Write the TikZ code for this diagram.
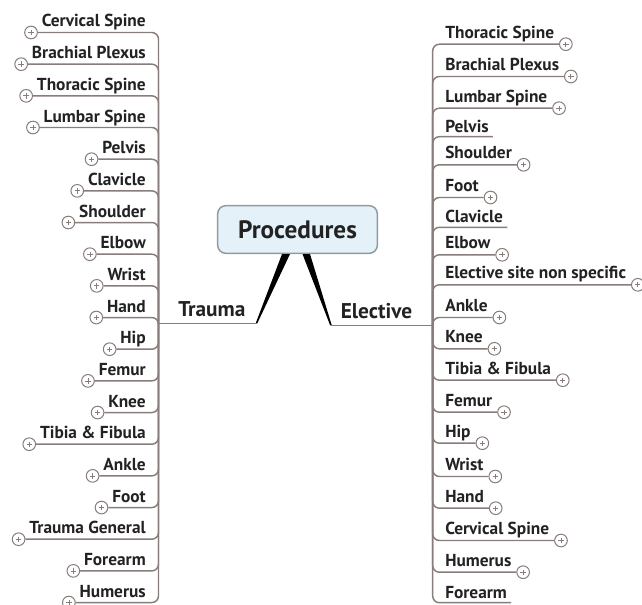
\documentclass[tikz,border=0pt]{standalone}
\usepackage{fontspec}
\setmainfont{PT Sans}
\usetikzlibrary{calc}
\definecolor{linegrey}{HTML}{877D7B}
\definecolor{txt}{HTML}{222222}
\definecolor{boxfill}{HTML}{E4F1F9}
\definecolor{boxline}{HTML}{8E9BA3}

\begin{document}
\begin{tikzpicture}[x=0.75pt,y=-0.75pt,
  item/.style={font=\bfseries\fontsize{13pt}{15pt}\selectfont, text=txt, inner sep=0pt},
  branch/.style={font=\bfseries\fontsize{16pt}{18pt}\selectfont, text=txt, inner sep=0pt},
  conn/.style={draw=linegrey, line width=1.1pt, rounded corners=5pt},
  plusmark/.style={circle, draw=linegrey, line width=0.75pt, minimum size=9.5pt,
    inner sep=0pt, fill=white,
    path picture={\draw[linegrey, line width=0.55pt]
      (path picture bounding box.center) +(-2pt,0) -- +(2pt,0)
      +(0,-2pt) -- +(0,2pt);}},
]
\useasboundingbox (0,0) rectangle (642,605);

% central topic
\node[draw=boxline, fill=boxfill, line width=1.1pt, rounded corners=6pt,
      minimum width=119.7pt, minimum height=35.7pt, inner sep=0pt,
      font=\bfseries\fontsize{18.9pt}{21pt}\selectfont, text=txt] (proc) at (297.5,229.5) {Procedures};

% main branches
\coordinate (tj) at (256.5,323.3);
\coordinate (lj) at (158.5,323.3);
\coordinate (ej) at (331,325.5);
\coordinate (rj) at (432.7,325.5);

\fill[black] ($(tj)+(-0.8,0)$) -- ($(tj)+(0.8,0)$) -- ($(proc.south)+(-7.5,0)$) -- ($(proc.south)+(-15.5,0)$) -- cycle;
\fill[black] ($(ej)+(-0.8,0)$) -- ($(ej)+(0.8,0)$) -- ($(proc.south)+(12.5,0)$) -- ($(proc.south)+(5,0)$) -- cycle;

\node[branch, anchor=base west] (trauma) at (178,316.7) {Trauma};
\node[branch, anchor=base west] (elective) at (340.5,318.5) {Elective};
\draw[conn] (lj) -- (tj);
\draw[conn] (ej) -- (rj);

% trauma sub-topics
\foreach \t [count=\i from 0] in {Cervical Spine, Brachial Plexus, Thoracic Spine,
    Lumbar Spine, Pelvis, Clavicle, Shoulder, Elbow, Wrist, Hand, Hip, Femur, Knee,
    Tibia \& Fibula, Ankle, Foot, Trauma General, Forearm, Humerus} {
  \pgfmathsetmacro\uy{31.5+31.67*\i}
  \node[item, anchor=base east] (L\i) at (146,\uy-4.5) {\t};
  \node[plusmark] (Lp\i) at ($(L\i.base west)+(-10.5,5.5)$) {};
  \draw[conn] (lj) |- (Lp\i.east);
}

% elective sub-topics
\foreach \y/\t/\p [count=\i] in {42.7/Thoracic Spine/1, 75/Brachial Plexus/1,
    106.7/Lumbar Spine/1, 136.7/Pelvis/0, 163.3/Shoulder/1, 196/Foot/1,
    227.3/Clavicle/0, 253.3/Elbow/1, 283.3/Elective site non specific/1,
    316/Ankle/1, 347.3/Knee/1, 378.7/Tibia \& Fibula/1, 410.7/Femur/1,
    441.7/Hip/1, 475/Wrist/1, 506.7/Hand/1, 539/Cervical Spine/1,
    570.7/Humerus/1, 602.7/Forearm/0} {
  \node[item, anchor=base west] (R\i) at (445,\y-4.5) {\t};
  \ifnum\p=1
    \node[plusmark] (Rp\i) at ($(R\i.base east)+(11.5,6)$) {};
    \draw[conn] (rj) |- (Rp\i.west);
  \else
    \coordinate (Rp\i) at ($(R\i.base east)+(4,4.5)$);
    \draw[conn] (rj) |- (Rp\i);
  \fi
}
\end{tikzpicture}
\end{document}
